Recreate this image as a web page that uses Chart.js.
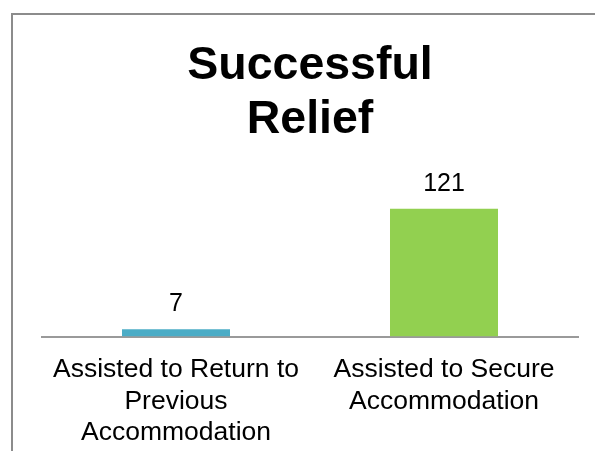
<!DOCTYPE html>
<html>
<head>
<meta charset="utf-8">
<script src="https://cdn.jsdelivr.net/npm/chart.js@4"></script>
<style>
  html, body { margin: 0; padding: 0; background: #fff; overflow: hidden; }
  body { width: 595px; height: 451px; position: relative; }
  #frame {
    position: absolute; left: 11px; top: 13px;
    border-top: 2px solid #8c8c8c; border-left: 2px solid #8c8c8c;
    width: 582px; height: 451px;
  }
  #chart { display: block; }
</style>
</head>
<body>
<div id="frame"><canvas id="chart" width="582" height="451"></canvas></div>
<script>
const titleLines = ["Successful", "Relief"];
const categories = [
  ["Assisted to Return to", "Previous", "Accommodation"],
  ["Assisted to Secure", "Accommodation"]
];
const values = [7, 121];
const barColors = ["#4BACC6", "#92D050"];
const yMax = 137;

const fontFamily = "Arial, 'Liberation Sans', sans-serif";

// draws the value above each bar
const valueLabels = {
  id: "valueLabels",
  afterDatasetsDraw(chart) {
    const ctx = chart.ctx;
    ctx.save();
    ctx.font = "25px " + fontFamily;
    ctx.fillStyle = "#000";
    ctx.textAlign = "center";
    ctx.textBaseline = "alphabetic";
    chart.getDatasetMeta(0).data.forEach((bar, i) => {
      ctx.fillText(String(values[i]), bar.x, bar.y - 18);
    });
    ctx.restore();
  }
};

new Chart(document.getElementById("chart").getContext("2d"), {
  type: "bar",
  data: {
    labels: categories,
    datasets: [{
      data: values,
      backgroundColor: barColors,
      borderWidth: 0,
      categoryPercentage: 1,
      barPercentage: 0.403
    }]
  },
  options: {
    responsive: false,
    animation: false,
    events: [],
    layout: { padding: { left: 29, right: 17, top: 0, bottom: 0 } },
    plugins: {
      legend: { display: false },
      tooltip: { enabled: false },
      title: {
        display: true,
        text: titleLines,
        color: "#000",
        font: { family: fontFamily, size: 46.5, weight: "bold", lineHeight: 1.17 },
        padding: { top: 24, bottom: 44 }
      }
    },
    scales: {
      x: {
        grid: { display: false, drawTicks: false },
        border: { display: true, color: "#9a9a9a", width: 2 },
        ticks: {
          color: "#000",
          padding: 17,
          maxRotation: 0,
          autoSkip: false,
          font: { family: fontFamily, size: 26.5, lineHeight: 1.2 }
        }
      },
      y: {
        display: false,
        min: 0,
        max: yMax
      }
    }
  },
  plugins: [valueLabels]
});
</script>
</body>
</html>
